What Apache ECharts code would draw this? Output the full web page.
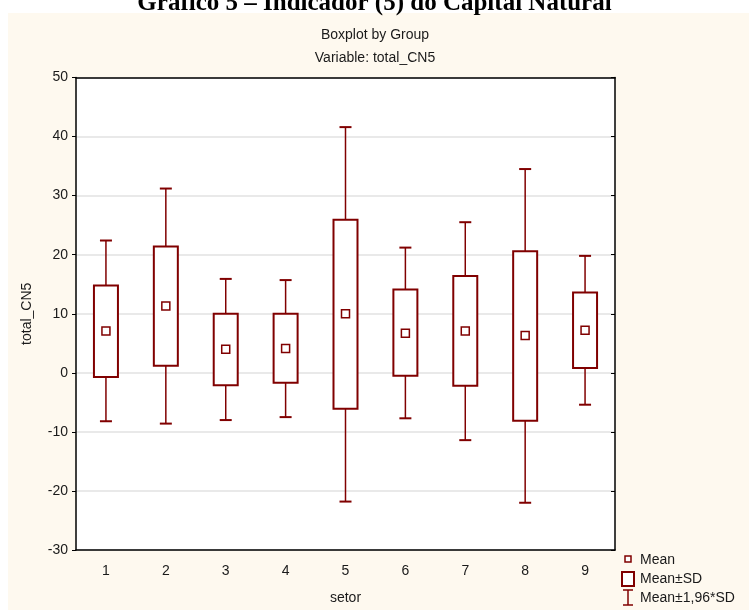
<!DOCTYPE html>
<html>
<head>
<meta charset="utf-8">
<script src="https://cdn.jsdelivr.net/npm/echarts@6/dist/echarts.min.js"></script>
<style>
  html, body { margin: 0; padding: 0; background: #ffffff; }
  #chart { width: 749px; height: 610px; }
</style>
</head>
<body>
<div id="chart"></div>
<script>
// Sector groups on the x axis
const categories = ['1', '2', '3', '4', '5', '6', '7', '8', '9'];
// Group means of total_CN5
const means = [7.1, 11.3, 4.0, 4.1, 10.0, 6.7, 7.1, 6.3, 7.2];
// Mean - SD and Mean + SD (box edges)
const sdLow = [-0.7, 1.2, -2.1, -1.7, -6.1, -0.5, -2.2, -8.1, 0.8];
const sdHigh = [14.8, 21.4, 10.0, 10.0, 25.9, 14.1, 16.4, 20.6, 13.6];
// Mean - 1.96*SD and Mean + 1.96*SD (whisker ends)
const ciLow = [-8.2, -8.6, -8.0, -7.5, -21.8, -7.7, -11.4, -22.0, -5.4];
const ciHigh = [22.4, 31.2, 15.9, 15.7, 41.6, 21.2, 25.5, 34.5, 19.8];
// Value axis ticks
const yTicks = [-30, -20, -10, 0, 10, 20, 30, 40, 50];

const DARK = '#800000';
const FONT = 'Liberation Sans, Arial, sans-serif';

const boxData = categories.map((c, i) => [i, means[i], sdLow[i], sdHigh[i], ciLow[i], ciHigh[i]]);

function renderBox(params, api) {
  const i = api.value(0);
  const x = api.coord([i, 0])[0];
  const yMean = api.coord([i, api.value(1)])[1];
  const yLo = api.coord([i, api.value(2)])[1];
  const yHi = api.coord([i, api.value(3)])[1];
  const yCiLo = api.coord([i, api.value(4)])[1];
  const yCiHi = api.coord([i, api.value(5)])[1];
  const half = 12, cap = 6, m = 4;
  const lineStyle = { stroke: DARK, lineWidth: 1.5, fill: null };
  return {
    type: 'group',
    children: [
      { type: 'line', shape: { x1: x, y1: yCiHi, x2: x, y2: yHi }, style: lineStyle },
      { type: 'line', shape: { x1: x, y1: yLo, x2: x, y2: yCiLo }, style: lineStyle },
      { type: 'line', shape: { x1: x - cap, y1: yCiHi, x2: x + cap, y2: yCiHi }, style: { stroke: DARK, lineWidth: 2 } },
      { type: 'line', shape: { x1: x - cap, y1: yCiLo, x2: x + cap, y2: yCiLo }, style: { stroke: DARK, lineWidth: 2 } },
      { type: 'rect', shape: { x: x - half, y: yHi, width: half * 2, height: yLo - yHi },
        style: { stroke: DARK, lineWidth: 2, fill: '#ffffff' } },
      { type: 'rect', shape: { x: x - m, y: yMean - m, width: m * 2, height: m * 2 },
        style: { stroke: DARK, lineWidth: 1.5, fill: '#ffffff' } }
    ]
  };
}

const chart = echarts.init(document.getElementById('chart'), null, { renderer: 'canvas' });

const legendX = 628;
const option = {
  backgroundColor: '#ffffff',
  animation: false,
  graphic: [
    { type: 'rect', z: -10, shape: { x: 8, y: 13, width: 741, height: 597 }, style: { fill: '#fef9ef' } },
    { type: 'text', left: 'center', top: -9, style: { text: 'Gráfico 5 – Indicador (5) do Capital Natural',
      font: 'bold 25px "Liberation Serif", "Times New Roman", serif', fill: '#000' } },
    { type: 'text', style: { x: 375, y: 35, text: 'Boxplot by Group', font: '14px ' + FONT, fill: '#1a1a1a',
      textAlign: 'center', textVerticalAlign: 'middle' } },
    { type: 'text', style: { x: 375, y: 58, text: 'Variable: total_CN5', font: '14px ' + FONT, fill: '#1a1a1a',
      textAlign: 'center', textVerticalAlign: 'middle' } },
    // legend
    { type: 'rect', shape: { x: legendX - 3, y: 556, width: 6, height: 6 }, style: { stroke: DARK, lineWidth: 1.5, fill: '#fff' } },
    { type: 'text', style: { x: 640, y: 560, text: 'Mean', font: '14px ' + FONT, fill: '#1a1a1a', textVerticalAlign: 'middle' } },
    { type: 'rect', shape: { x: legendX - 6, y: 572, width: 12, height: 14 }, style: { stroke: DARK, lineWidth: 2, fill: '#fff' } },
    { type: 'text', style: { x: 640, y: 579, text: 'Mean±SD', font: '14px ' + FONT, fill: '#1a1a1a', textVerticalAlign: 'middle' } },
    { type: 'line', shape: { x1: legendX - 5, y1: 590, x2: legendX + 5, y2: 590 }, style: { stroke: DARK, lineWidth: 1.5 } },
    { type: 'line', shape: { x1: legendX, y1: 590, x2: legendX, y2: 605 }, style: { stroke: DARK, lineWidth: 1.5 } },
    { type: 'line', shape: { x1: legendX - 5, y1: 605, x2: legendX + 5, y2: 605 }, style: { stroke: DARK, lineWidth: 1.5 } },
    { type: 'text', style: { x: 640, y: 598, text: 'Mean±1,96*SD', font: '14px ' + FONT, fill: '#1a1a1a', textVerticalAlign: 'middle' } }
  ],
  grid: {
    left: 76, right: 134, top: 77.5, bottom: 56.5,
    show: true, backgroundColor: '#ffffff', borderWidth: 0
  },
  xAxis: [
    {
      type: 'category', data: categories, position: 'bottom', boundaryGap: true,
      name: 'setor', nameLocation: 'middle', nameGap: 41,
      nameTextStyle: { fontFamily: FONT, fontSize: 14, color: '#1a1a1a' },
      axisLine: { onZero: false, lineStyle: { color: '#000', width: 1.5 } },
      axisTick: { inside: true, length: 4, alignWithLabel: true, lineStyle: { color: '#000' } },
      axisLabel: { fontFamily: FONT, fontSize: 14, color: '#1a1a1a', margin: 14 },
      splitLine: { show: false }
    },
    {
      type: 'category', data: categories, position: 'top', boundaryGap: true,
      axisLine: { onZero: false, lineStyle: { color: '#000', width: 1.5 } },
      axisTick: { inside: true, length: 4, alignWithLabel: true, lineStyle: { color: '#000' } },
      axisLabel: { show: false }, splitLine: { show: false }
    }
  ],
  yAxis: [
    {
      type: 'value', min: yTicks[0], max: yTicks[yTicks.length - 1], interval: 10, position: 'left',
      name: 'total_CN5', nameLocation: 'middle', nameGap: 42, nameRotate: 90,
      nameTextStyle: { fontFamily: FONT, fontSize: 14, color: '#1a1a1a' },
      axisLine: { show: true, onZero: false, lineStyle: { color: '#000', width: 1.5 } },
      axisTick: { show: true, inside: false, length: 4, lineStyle: { color: '#000' } },
      axisLabel: { fontFamily: FONT, fontSize: 14, color: '#1a1a1a', margin: 8 },
      splitLine: { show: true, lineStyle: { color: '#e2e2e2', width: 1.5 } }
    },
    {
      type: 'value', min: yTicks[0], max: yTicks[yTicks.length - 1], interval: 10, position: 'right',
      axisLine: { show: true, onZero: false, lineStyle: { color: '#000', width: 1.5 } },
      axisTick: { show: true, inside: true, length: 4, lineStyle: { color: '#000' } },
      axisLabel: { show: false }, splitLine: { show: false }
    }
  ],
  series: [
    {
      type: 'custom', xAxisIndex: 0, yAxisIndex: 0,
      renderItem: renderBox, data: boxData, clip: false, z: 5
    }
  ]
};
chart.setOption(option);
</script>
</body>
</html>
